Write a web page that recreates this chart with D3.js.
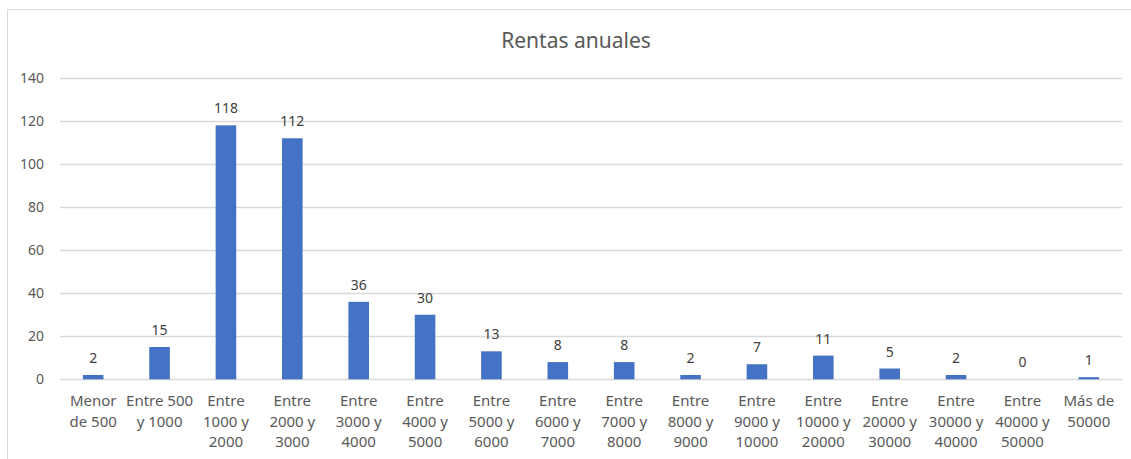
<!DOCTYPE html>
<html>
<head>
<meta charset="utf-8">
<script src="https://cdn.jsdelivr.net/npm/d3@7"></script>
<style>
  body { margin: 0; background: #fff; }
  text { font-family: "Noto Sans", "Open Sans", sans-serif; }
</style>
</head>
<body>
<div id="chart"></div>
<script>
// chart data
var title = "Rentas anuales";
var categories = [
    "Menor de 500", "Entre 500 y 1000", "Entre 1000 y 2000", "Entre 2000 y 3000",
    "Entre 3000 y 4000", "Entre 4000 y 5000", "Entre 5000 y 6000", "Entre 6000 y 7000",
    "Entre 7000 y 8000", "Entre 8000 y 9000", "Entre 9000 y 10000", "Entre 10000 y 20000",
    "Entre 20000 y 30000", "Entre 30000 y 40000", "Entre 40000 y 50000", "Más de 50000"
];
// how each axis label wraps
var labelLines = [
    ["Menor", "de 500"], ["Entre 500", "y 1000"], ["Entre", "1000 y", "2000"], ["Entre", "2000 y", "3000"],
    ["Entre", "3000 y", "4000"], ["Entre", "4000 y", "5000"], ["Entre", "5000 y", "6000"], ["Entre", "6000 y", "7000"],
    ["Entre", "7000 y", "8000"], ["Entre", "8000 y", "9000"], ["Entre", "9000 y", "10000"], ["Entre", "10000 y", "20000"],
    ["Entre", "20000 y", "30000"], ["Entre", "30000 y", "40000"], ["Entre", "40000 y", "50000"], ["Más de", "50000"]
];
var values = [2, 15, 118, 112, 36, 30, 13, 8, 8, 2, 7, 11, 5, 2, 0, 1];
var yTicks = [0, 20, 40, 60, 80, 100, 120, 140];

var W = 1131, H = 459;
var plotLeft = 60, plotRight = 1122, plotTop = 78, plotBottom = 379.3;

var svg = d3.select("#chart").append("svg")
    .attr("width", W)
    .attr("height", H);

// chart border (runs off the right and bottom edge)
svg.append("rect")
    .attr("x", 7.5).attr("y", 9.5)
    .attr("width", W + 20).attr("height", H + 20)
    .style("fill", "#fff")
    .style("stroke", "#d9d9d9");

svg.append("text")
    .attr("x", 576)
    .attr("y", 48)
    .attr("text-anchor", "middle")
    .style("font-size", "21px")
    .style("fill", "#595959")
    .text(title);

var x = d3.scaleBand()
    .domain(categories)
    .range([plotLeft, plotRight])
    .paddingInner(0.69)
    .paddingOuter(0.345);

var y = d3.scaleLinear()
    .domain([0, 140])
    .range([plotBottom, plotTop]);

// gridlines
svg.append("g")
    .selectAll("line")
    .data(yTicks)
    .enter()
    .append("line")
    .attr("x1", plotLeft).attr("x2", plotRight)
    .attr("y1", function(d){return Math.round(y(d)) + 0.5;})
    .attr("y2", function(d){return Math.round(y(d)) + 0.5;})
    .style("stroke", "#d9d9d9")
    .style("stroke-width", 1.3);

// y axis labels
var yAxis = svg.append("g")
    .attr("transform", "translate(" + (plotLeft - 16) + ",0)")
    .call(d3.axisLeft(y).tickValues(yTicks).tickSize(0).tickPadding(0));
yAxis.select(".domain").remove();
yAxis.selectAll("text")
    .style("font-size", "14px")
    .style("font-family", "\"Noto Sans\", sans-serif")
    .style("fill", "#595959");

// bars
svg.selectAll("rect.bar")
    .data(values)
    .enter()
    .append("rect")
    .attr("class", "bar")
    .attr("x", function(d, i){return x(categories[i]);})
    .attr("width", x.bandwidth())
    .attr("y", function(d){return y(d);})
    .attr("height", function(d){return y(0) - y(d);})
    .style("fill", "#4472c4");

// data labels
svg.selectAll("text.val")
    .data(values)
    .enter()
    .append("text")
    .attr("class", "val")
    .attr("x", function(d, i){return x(categories[i]) + x.bandwidth() / 2;})
    .attr("y", function(d){return y(d) - 12;})
    .attr("text-anchor", "middle")
    .style("font-size", "14px")
    .style("fill", "#404040")
    .text(function(d){return d;});

// category labels
var xl = svg.selectAll("text.cat")
    .data(labelLines)
    .enter()
    .append("text")
    .attr("class", "cat")
    .attr("text-anchor", "middle")
    .style("font-size", "15px")
    .style("fill", "#595959");

xl.selectAll("tspan")
    .data(function(d, i){return d.map(function(s){return {s: s, i: i};});})
    .enter()
    .append("tspan")
    .attr("x", function(d){return x(categories[d.i]) + x.bandwidth() / 2;})
    .attr("y", function(d, j){return 406 + j * 20.5;})
    .text(function(d){return d.s;});
</script>
</body>
</html>
